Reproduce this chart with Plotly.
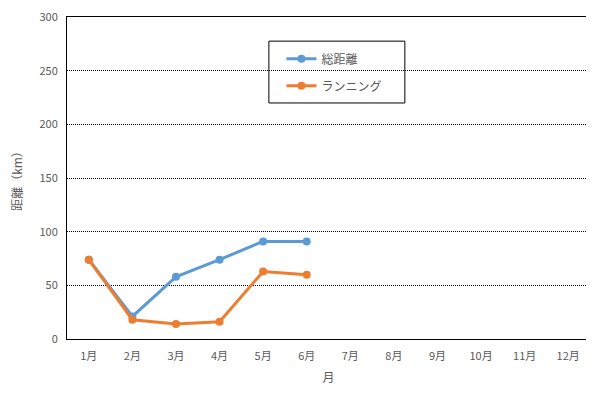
import plotly.graph_objects as go

months = ["1月", "2月", "3月", "4月", "5月", "6月", "7月", "8月", "9月", "10月", "11月", "12月"]
total = [74, 21, 58, 74, 91, 91]
running = [74, 18, 14, 16, 63, 60]
yticks = [0, 50, 100, 150, 200, 250, 300]

font_family = "Noto Sans CJK JP, Noto Sans, sans-serif"

fig = go.Figure()
fig.add_trace(go.Scatter(x=months[:len(total)], y=total, name="総距離", mode="lines+markers",
                         legendgroup="a",
                         line=dict(color="#5B9BD5", width=3), marker=dict(size=8, color="#5B9BD5")))
fig.add_trace(go.Scatter(x=months[:len(running)], y=running, name="ランニング", mode="lines+markers",
                         legendgroup="b",
                         line=dict(color="#ED7D31", width=3), marker=dict(size=8, color="#ED7D31")))

# legend frame
fig.add_shape(type="rect", xref="paper", yref="paper", x0=0.386, x1=0.646, y0=0.733, y1=0.925,
              line=dict(color="black", width=1), fillcolor="white", layer="below")

fig.update_layout(
    width=586, height=389,
    margin=dict(l=59, r=4, t=9, b=58, autoexpand=False),
    paper_bgcolor="white", plot_bgcolor="white",
    font=dict(family=font_family, size=11, color="#595959"),
    showlegend=True,
    legend=dict(x=0.41, y=0.915, xanchor="left", yanchor="top",
                borderwidth=0, bgcolor="rgba(0,0,0,0)",
                font=dict(size=12, color="#595959"),
                tracegroupgap=8),
    xaxis=dict(type="category", categoryorder="array", categoryarray=months,
               range=[-0.5, 11.5], showgrid=False, showline=True, linecolor="black",
               linewidth=1, mirror=True, ticks="", ticklabelstandoff=7, automargin=False,
               title=dict(text="月", standoff=11, font=dict(size=12, color="#595959"))),
    yaxis=dict(range=[0, 300.3], tickvals=yticks, showgrid=True, gridcolor="black",
               griddash="1px,1px", gridwidth=1, showline=True, linecolor="black", linewidth=1,
               mirror=True, ticks="", zeroline=False, ticklabelstandoff=6,
               ticklabeloverflow="allow", automargin=False,
               title=dict(text="距離（km）", standoff=16, font=dict(size=12, color="#595959"))),
)

fig.write_html("out.html")
